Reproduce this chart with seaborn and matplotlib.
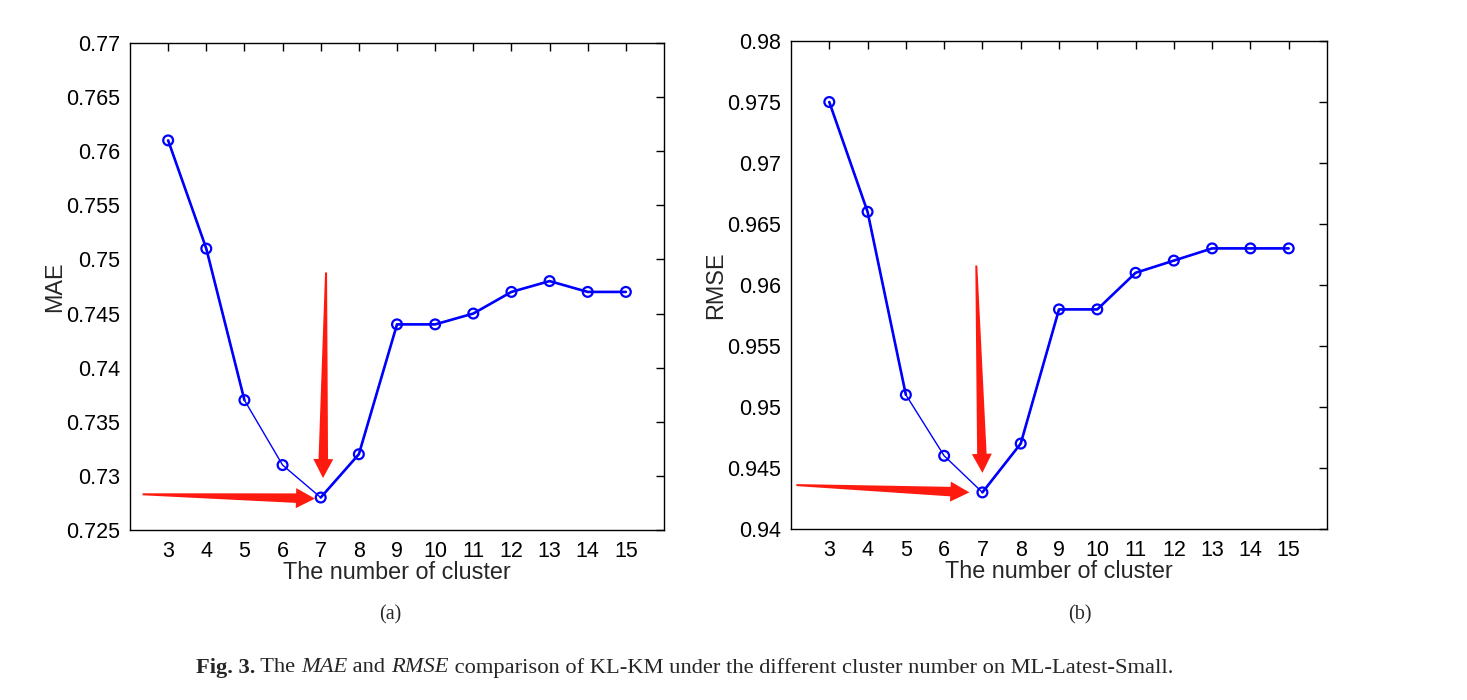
import matplotlib
matplotlib.use("Agg")
import matplotlib.pyplot as plt
from matplotlib.patches import Polygon
from matplotlib.transforms import IdentityTransform
import seaborn as sns
import numpy as np
import pandas as pd

# ---------------- data ----------------
clusters = [3, 4, 5, 6, 7, 8, 9, 10, 11, 12, 13, 14, 15]
mae = [0.761, 0.751, 0.737, 0.731, 0.728, 0.732, 0.744, 0.744, 0.745, 0.747, 0.748, 0.747, 0.747]
rmse = [0.975, 0.966, 0.951, 0.946, 0.943, 0.947, 0.958, 0.958, 0.961, 0.962, 0.963, 0.963, 0.963]
mae_ticks = [0.725, 0.73, 0.735, 0.74, 0.745, 0.75, 0.755, 0.76, 0.765, 0.77]
rmse_ticks = [0.94, 0.945, 0.95, 0.955, 0.96, 0.965, 0.97, 0.975, 0.98]
xlabel = "The number of cluster"
caption_parts = [("Fig. 3.", "bold", "normal"), (" The ", "normal", "normal"),
                 ("MAE", "normal", "italic"), (" and ", "normal", "normal"),
                 ("RMSE", "normal", "italic"),
                 (" comparison of KL-KM under the different cluster number on ML-Latest-Small.", "normal", "normal")]

sns.set_style("white")
plt.rcParams["font.family"] = ["Liberation Sans", "DejaVu Sans"]

W, H = 1467, 700
fig = plt.figure(figsize=(W / 100, H / 100), dpi=100)
ax1 = fig.add_axes([130 / W, 1 - 530 / H, (664 - 130) / W, (530 - 43) / H])
ax2 = fig.add_axes([791 / W, 1 - 529 / H, (1327 - 791) / W, (529 - 41) / H])

arrows = []


def draw(ax, vals, ticks, ylabel, harrow, varrow):
    df = pd.DataFrame({"k": clusters, "v": vals})
    sns.lineplot(data=df, x="k", y="v", ax=ax, color="#0000ff", lw=1.0, estimator=None)
    sns.lineplot(data=df[df.k <= 5], x="k", y="v", ax=ax, color="#0000ff", lw=1.9, estimator=None)
    sns.lineplot(data=df[df.k >= 7], x="k", y="v", ax=ax, color="#0000ff", lw=1.9, estimator=None)
    sns.scatterplot(data=df, x="k", y="v", ax=ax, marker="o", s=50, facecolor="none",
                    edgecolor="#0000ff", linewidth=1.6, zorder=5)
    ax.set_xlim(2, 16)
    ax.set_ylim(ticks[0], ticks[-1])
    ax.set_xticks(clusters)
    ax.set_xticklabels([str(c) for c in clusters])
    ax.set_yticks(ticks)
    ax.set_yticklabels(["{:g}".format(round(t, 3)) for t in ticks])
    ax.tick_params(direction="in", length=6, width=1, top=True, right=True,
                   labelsize=15.5, colors="black")
    ax.tick_params(axis="x", pad=8)
    ax.tick_params(axis="y", pad=7)
    for s in ax.spines.values():
        s.set_color("black")
        s.set_linewidth(1.0)
    ax.set_xlabel(xlabel, fontsize=16.8, labelpad=-1)
    ax.set_ylabel(ylabel, fontsize=16.8, labelpad=0)
    arrows.append((ax, harrow))
    arrows.append((ax, varrow))


draw(ax1, mae, mae_ticks, "MAE",
     ((2.33, 0.7283), (6.85, 0.7279)),
     ((7.14, 0.7488), (7.06, 0.7298)))
draw(ax2, rmse, rmse_ticks, "RMSE",
     ((2.14, 0.9436), (6.66, 0.9430)),
     ((6.84, 0.9616), (7.0, 0.9446)))

serif = ["Liberation Serif", "DejaVu Serif"]
fig.text(390 / W, 1 - 615 / H, "(a)", ha="center", va="center", fontsize=14.5, family=serif)
fig.text(1080 / W, 1 - 615 / H, "(b)", ha="center", va="center", fontsize=14.5, family=serif)

fig.canvas.draw()
renderer = fig.canvas.get_renderer()

# red tapered arrows (annotation shapes built in pixel space)
tail_w, neck_w, head_w, head_len = 2.0, 9.5, 20.0, 19.0
for ax, (tail, tip) in arrows:
    p0 = np.array(ax.transData.transform(tail))
    p1 = np.array(ax.transData.transform(tip))
    d = p1 - p0
    L = np.hypot(*d)
    u = d / L
    n = np.array([-u[1], u[0]])
    base = p1 - u * head_len
    pts = [p0 + n * tail_w / 2, base + n * neck_w / 2, base + n * head_w / 2, p1,
           base - n * head_w / 2, base - n * neck_w / 2, p0 - n * tail_w / 2]
    fig.patches.append(Polygon(pts, closed=True, transform=IdentityTransform(),
                               facecolor="#ff1a10", edgecolor="none", zorder=10,
                               figure=fig))

# caption pieces laid out in sequence
cap_size = 16.2
texts = []
for s, wgt, sty in caption_parts:
    t = fig.text(0, 1 - 668 / H, s, ha="left", va="center", fontsize=cap_size,
                 family=serif, weight=wgt, style=sty)
    texts.append(t)
widths = [t.get_window_extent(renderer).width for t in texts]
total = sum(widths)
cur = 684.5 - total / 2
for t, w in zip(texts, widths):
    t.set_x(cur / W)
    cur += w

fig.savefig("out.png", dpi=100, facecolor="white")
